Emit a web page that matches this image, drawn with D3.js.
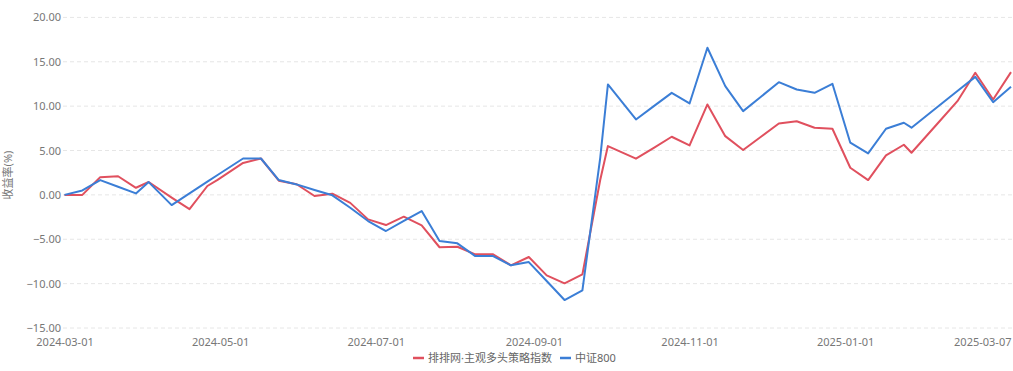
<!DOCTYPE html>
<html>
<head>
<meta charset="utf-8">
<script src="https://cdn.jsdelivr.net/npm/d3@7"></script>
<style>
  body { margin: 0; background: #fff; }
  text { font-family: "Noto Sans", "Noto Sans CJK SC", sans-serif; }
</style>
</head>
<body>
<div id="svgcontainer"></div>
<script>
var width = 1013;
var height = 371;

// weekly dates (last trading day of each week)
var dates = ["2024-03-01","2024-03-08","2024-03-15","2024-03-22","2024-03-29","2024-04-03",
  "2024-04-12","2024-04-19","2024-04-26","2024-04-30","2024-05-10","2024-05-17","2024-05-24",
  "2024-05-31","2024-06-07","2024-06-14","2024-06-21","2024-06-28","2024-07-05","2024-07-12",
  "2024-07-19","2024-07-26","2024-08-02","2024-08-09","2024-08-16","2024-08-23","2024-08-30",
  "2024-09-06","2024-09-13","2024-09-20","2024-09-27","2024-09-30","2024-10-11","2024-10-18",
  "2024-10-25","2024-11-01","2024-11-08","2024-11-15","2024-11-22","2024-11-29","2024-12-06",
  "2024-12-13","2024-12-20","2024-12-27","2025-01-03","2025-01-10","2025-01-17","2025-01-24",
  "2025-01-27","2025-02-07","2025-02-14","2025-02-21","2025-02-28","2025-03-07"];

var strategyValues = [0, 0, 2.0, 2.1, 0.8, 1.45, -0.3, -1.6, 1.0, 1.7, 3.6, 4.1, 1.6, 1.2,
  -0.13, 0.13, -0.9, -2.76, -3.4, -2.46, -3.43, -5.9, -5.84, -6.7, -6.7, -7.94, -7.0, -9.07,
  -9.97, -8.95, 1.7, 5.5, 4.08, 5.3, 6.55, 5.57, 10.19, 6.62, 5.05, 6.55, 8.05, 8.3, 7.57,
  7.45, 3.06, 1.67, 4.45, 5.65, 4.75, 8.3, 10.56, 13.76, 10.75, 13.83];

var csi800Values = [0, 0.5, 1.67, 0.92, 0.17, 1.44, -1.15, 0.17, 1.49, 2.24, 4.1, 4.1, 1.67,
  1.18, 0.55, -0.05, -1.45, -2.95, -4.07, -2.93, -1.82, -5.2, -5.46, -6.9, -6.9, -7.94, -7.57,
  -9.7, -11.85, -10.75, 4.2, 12.44, 8.5, 10.0, 11.5, 10.3, 16.58, 12.25, 9.44, 11.06, 12.7,
  11.88, 11.5, 12.52, 5.88, 4.67, 7.45, 8.13, 7.57, 10.1, 11.7, 13.3, 10.45, 12.18];

var seriesNames = ["排排网·主观多头策略指数", "中证800"];
var seriesColors = ["#e0505e", "#3b7ed6"];
var yTicks = [-15, -10, -5, 0, 5, 10, 15, 20];
var xTickLabels = ["2024-03-01","2024-05-01","2024-07-01","2024-09-01","2024-11-01","2025-01-01","2025-03-07"];

var parse = d3.timeParse("%Y-%m-%d");
var fmt = d3.timeFormat("%Y-%m-%d");

var svg = d3.select("#svgcontainer")
  .append("svg")
  .attr("width", width)
  .attr("height", height)
  .style("background-color", "white");

var x = d3.scaleTime()
  .domain([parse(dates[0]), parse(dates[dates.length - 1])])
  .range([64.5, 1011]);

var y = d3.scaleLinear()
  .domain([-15, 20])
  .range([328, 17.4]);

// grid lines
svg.append("g")
  .selectAll("line")
  .data(yTicks)
  .enter()
  .append("line")
  .attr("x1", 63)
  .attr("x2", width)
  .attr("y1", function (d) { return y(d); })
  .attr("y2", function (d) { return y(d); })
  .style("stroke", "#e6e6e6")
  .style("stroke-dasharray", "4,3")
  .style("stroke-width", 1);

// y axis labels
var yAxis = svg.append("g")
  .attr("transform", "translate(61,0)")
  .call(d3.axisLeft(y).tickValues(yTicks).tickSize(0).tickPadding(0).tickFormat(d3.format(".2f")));
yAxis.select(".domain").remove();
yAxis.selectAll("text").style("fill", "#777").style("font-size", "11px");

// x axis labels
var xAxis = svg.append("g")
  .attr("transform", "translate(0,338)")
  .call(d3.axisBottom(x).tickValues(xTickLabels.map(parse)).tickSize(0).tickPadding(0).tickFormat(fmt));
xAxis.select(".domain").remove();
xAxis.selectAll("text").style("fill", "#777").style("font-size", "11px");
xAxis.selectAll("text")
  .filter(function (d, i) { return i === xTickLabels.length - 1; })
  .attr("text-anchor", "end");

// y axis title
svg.append("text")
  .attr("transform", "translate(12,175) rotate(-90)")
  .attr("text-anchor", "middle")
  .style("font-size", "11px")
  .style("fill", "#777")
  .text("收益率(%)");

// lines
var allSeries = [strategyValues, csi800Values];
var line = d3.line()
  .x(function (d, i) { return x(parse(dates[i])); })
  .y(function (d) { return y(d); });

svg.append("g")
  .selectAll("path")
  .data(allSeries)
  .enter()
  .append("path")
  .attr("d", line)
  .style("fill", "none")
  .style("stroke", function (d, i) { return seriesColors[i]; })
  .style("stroke-width", 2)
  .style("stroke-linejoin", "round");

// legend
var legendX = [413, 560];
var legend = svg.append("g")
  .selectAll("g")
  .data(seriesNames)
  .enter()
  .append("g")
  .attr("transform", function (d, i) { return "translate(" + legendX[i] + ",358)"; });

legend.append("line")
  .attr("x1", 0)
  .attr("x2", 11)
  .style("stroke", function (d, i) { return seriesColors[i]; })
  .style("stroke-width", 2.5);

legend.append("text")
  .attr("x", 15)
  .attr("dy", "0.35em")
  .style("font-size", "11px")
  .style("fill", "#666")
  .text(function (d) { return d; });
</script>
</body>
</html>
